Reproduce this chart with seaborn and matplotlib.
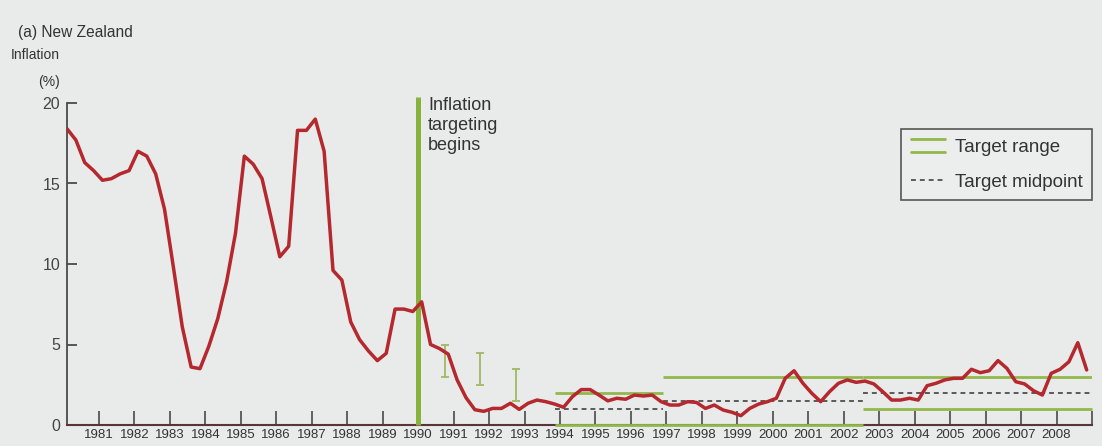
import numpy as np
import matplotlib
matplotlib.use("Agg")
import matplotlib.pyplot as plt
from matplotlib.lines import Line2D
from matplotlib.legend_handler import HandlerBase
import seaborn as sns

# Quarterly CPI inflation (%), 1980 Q1 - 2008 Q4
inflation = [18.4, 17.7, 16.3, 15.8, 15.2, 15.3, 15.6, 15.8, 17.0, 16.7,
             15.6, 13.4, 9.8, 6.1, 3.6, 3.5, 4.9, 6.6, 8.9, 11.9,
             16.7, 16.2, 15.3, 12.9, 10.45, 11.1, 18.3, 18.3, 19.0, 17.0,
             9.6, 9.0, 6.4, 5.3, 4.6, 4.0, 4.45, 7.2, 7.2, 7.05,
             7.65, 5.0, 4.75, 4.4, 2.8, 1.7, 0.95, 0.85, 1.03, 1.03,
             1.35, 0.97, 1.35, 1.55, 1.45, 1.3, 1.1, 1.76, 2.2, 2.2,
             1.86, 1.5, 1.66, 1.6, 1.86, 1.8, 1.86, 1.45, 1.24, 1.24,
             1.45, 1.4, 1.03, 1.24, 0.93, 0.79, 0.58, 1.03, 1.3, 1.45,
             1.66, 2.9, 3.37, 2.59, 1.97, 1.45, 2.07, 2.59, 2.8, 2.65,
             2.73, 2.55, 2.07, 1.55, 1.55, 1.66, 1.55, 2.44, 2.59, 2.8,
             2.9, 2.9, 3.46, 3.25, 3.37, 4.0, 3.52, 2.69, 2.55, 2.13,
             1.86, 3.21, 3.46, 3.93, 5.11, 3.42]
first_quarter = 1980.1
quarters = first_quarter + np.arange(len(inflation)) * 0.25

years = list(range(1981, 2010))
year_labels = [str(y) for y in range(1981, 2009)] + [""]

# first targets were set as small ranges
early_x = [1990.75, 1991.75, 1992.75]
early_low = [3.0, 2.5, 1.5]
early_high = [5.0, 4.5, 3.5]

# formal target ranges
band_start = [1993.85, 1996.9, 2002.55]
band_end = [1996.9, 2002.55, 2009.0]
band_low = [0, 0, 1]
band_high = [2, 3, 3]
targeting_start = 1990.0

red = "#b5282e"
green = "#93b84a"
bg = "#e8ebea"

sns.set_style("ticks")
plt.rcParams["font.family"] = ["Liberation Sans", "DejaVu Sans"]


class DoubleLine(HandlerBase):
    def create_artists(self, legend, orig_handle, xdescent, ydescent,
                       width, height, fontsize, trans):
        lines = []
        for yy in (0.0, 0.95 * height):
            ln = Line2D([-xdescent, width - xdescent], [yy - ydescent] * 2,
                        color=orig_handle.get_color(),
                        lw=orig_handle.get_linewidth(), transform=trans)
            lines.append(ln)
        return lines


fig = plt.figure(figsize=(11.02, 4.46), dpi=100, facecolor=bg)
ax = fig.add_axes([67 / 1102, 21 / 446, 1025 / 1102, 322 / 446])
ax.set_facecolor("none")

# target bands
mids = [(lo + hi) / 2 for lo, hi in zip(band_low, band_high)]
ax.hlines(band_high, band_start, band_end, color=green, lw=2, zorder=3)
ax.hlines(band_low, band_start, band_end, color=green, lw=2, zorder=3,
          clip_on=False)
ax.hlines(mids, band_start, band_end, color="#333333", lw=1.1,
          linestyles=(0, (3.2, 2.6)), zorder=3)

# early target ranges
early_mid = [(lo + hi) / 2 for lo, hi in zip(early_low, early_high)]
early_err = [(hi - lo) / 2 for lo, hi in zip(early_low, early_high)]
ax.errorbar(early_x, early_mid, yerr=early_err, fmt="none", ecolor="#a2b862",
            elinewidth=1.3, capsize=2.6, capthick=1.3, zorder=3)

# start of inflation targeting
ax.vlines(targeting_start, 0, 20.35, color="#86b33c", lw=3.6, zorder=4,
          clip_on=False)
ax.text(targeting_start + 0.28, 20.35, "Inflation\ntargeting\nbegins",
        ha="left", va="top", fontsize=13, linespacing=1.2, color="#333333")

sns.lineplot(x=quarters, y=inflation, color=red, linewidth=2.5, ax=ax,
             zorder=5)

ax.set_xlim(1980.1, 2009.0)
ax.set_ylim(0, 20)
ax.set_xticks(years)
ax.set_xticklabels(year_labels)
ax.set_yticks([0, 5, 10, 15, 20])
ax.tick_params(axis="x", direction="in", length=10, width=1.2,
               color="#4a4a4a", labelsize=9.5, pad=3, labelcolor="#333333")
ax.tick_params(axis="y", direction="in", length=7, width=1.3,
               color="#4a4a4a", labelsize=11.5, pad=5, labelcolor="#444444")
ax.set_xlabel("")
ax.set_ylabel("")
sns.despine(ax=ax)
ax.spines["left"].set_color("#4a4a4a")
ax.spines["left"].set_linewidth(1.3)
ax.spines["bottom"].set_color("#5b3535")
ax.spines["bottom"].set_linewidth(1.5)

handles = [Line2D([], [], color=green, lw=2),
           Line2D([], [], color="#333333", lw=1.1, ls=(0, (3.2, 2.6)))]
leg = ax.legend(handles, ["Target range", "Target midpoint"],
                handler_map={handles[0]: DoubleLine()},
                loc="upper right", bbox_to_anchor=(1.0, 0.918),
                borderaxespad=0, fontsize=13.5, frameon=True, fancybox=False,
                edgecolor="#555555", facecolor="#eceeed", framealpha=1,
                handlelength=1.8, handletextpad=0.55, labelspacing=0.95,
                borderpad=0.5)
leg.get_frame().set_linewidth(1.2)
for t in leg.get_texts():
    t.set_color("#333333")

fig.text(18 / 1102, 1 - 33 / 446, "(a) New Zealand", ha="left", va="center",
         fontsize=11.2, color="#333333")
fig.text(60 / 1102, 1 - 55 / 446, "Inflation", ha="right", va="center",
         fontsize=10, color="#333333")
fig.text(60 / 1102, 1 - 82 / 446, "(%)", ha="right", va="center",
         fontsize=10, color="#333333")

fig.savefig("out.png", dpi=100, facecolor=bg)
